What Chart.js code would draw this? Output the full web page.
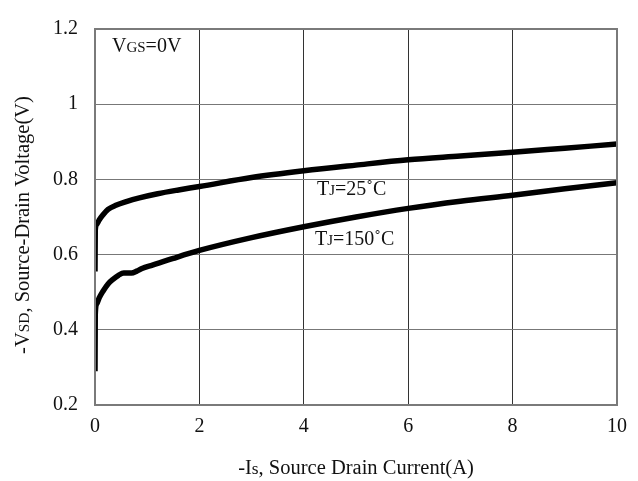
<!DOCTYPE html>
<html>
<head>
<meta charset="utf-8">
<script src="https://cdn.jsdelivr.net/npm/chart.js@4.4.1/dist/chart.umd.min.js"></script>
<style>
  html, body { margin: 0; padding: 0; background: #fff; }
  #wrap { width: 638px; height: 481px; }
</style>
</head>
<body>
<div id="wrap"><canvas id="vsdGraph" width="638" height="481"></canvas></div>
<script>
// Source-drain diode forward voltage vs current
var current25 = [0, 0.005, 0.03, 0.08, 0.15, 0.25, 0.4, 0.6, 0.85, 1.2, 1.6, 2, 3, 4, 5, 6, 7, 8, 9, 10];
var volt25 = [0.555, 0.665, 0.68, 0.692, 0.705, 0.72, 0.731, 0.741, 0.751, 0.762, 0.772, 0.781, 0.805, 0.823, 0.838, 0.852, 0.862, 0.872, 0.883, 0.894];

var current150 = [0, 0.005, 0.03, 0.08, 0.15, 0.25, 0.35, 0.45, 0.55, 0.7, 0.8, 0.9, 1.1, 1.5, 2, 3, 4, 5, 6, 7, 8, 9, 10];
var volt150 = [0.29, 0.44, 0.468, 0.485, 0.502, 0.522, 0.535, 0.545, 0.551, 0.551, 0.556, 0.563, 0.572, 0.59, 0.611, 0.645, 0.674, 0.7, 0.723, 0.742, 0.758, 0.775, 0.791];

var xTicks = [0, 2, 4, 6, 8, 10];
var yTicks = [0.2, 0.4, 0.6, 0.8, 1, 1.2];

var FONT = "'Liberation Serif', 'DejaVu Serif', serif";

function toPoints(xs, ys) {
    return xs.map(function (x, i) { return { x: x, y: ys[i] }; });
}

// draws text made of pieces with different sizes on a common baseline
function richText(ctx, parts, x, y, size, align) {
    var total = 0;
    parts.forEach(function (p) {
        ctx.font = (size * p[1]) + 'px ' + FONT;
        total += ctx.measureText(p[0]).width;
    });
    var cx = align === 'center' ? x - total / 2 : x;
    ctx.textBaseline = 'alphabetic';
    ctx.textAlign = 'left';
    parts.forEach(function (p) {
        ctx.font = (size * p[1]) + 'px ' + FONT;
        ctx.fillText(p[0], cx, y);
        cx += ctx.measureText(p[0]).width;
    });
}

var labelsPlugin = {
    id: 'labels',
    afterDraw: function (chart) {
        var ctx = chart.ctx;
        var a = chart.chartArea;
        ctx.save();

        // frame
        ctx.strokeStyle = '#7a7a7a';
        ctx.lineWidth = 2;
        ctx.strokeRect(a.left, a.top, a.right - a.left, a.bottom - a.top);

        ctx.fillStyle = '#111';
        richText(ctx, [['V', 1], ['GS', 0.75], ['=0V', 1]], 112, 52, 20, 'left');
        richText(ctx, [['T', 1], ['J', 0.75], ['=25', 1], ['\u02da', 1], ['C', 1]], 317, 195, 20, 'left');
        richText(ctx, [['T', 1], ['J', 0.75], ['=150', 1], ['\u02da', 1], ['C', 1]], 315, 245, 20, 'left');

        // x axis title
        richText(ctx, [['-I', 1], ['s', 0.85], [', Source Drain Current(A)', 1]],
            (a.left + a.right) / 2, 474, 20.5, 'center');

        // y axis title, rotated
        ctx.translate(29, (a.top + a.bottom) / 2 + 8);
        ctx.rotate(-Math.PI / 2);
        richText(ctx, [['-V', 1], ['SD', 0.75], [', Source-Drain Voltage(V)', 1]], 0, 0, 20.5, 'center');
        ctx.restore();
    }
};

var ctx = document.getElementById('vsdGraph').getContext('2d');

var vsdGraph = new Chart(ctx, {
    type: 'line',
    data: {
        datasets: [{
            label: 'TJ=25C',
            data: toPoints(current25, volt25),
            borderColor: '#000',
            borderWidth: 5.5,
            pointRadius: 0,
            cubicInterpolationMode: 'monotone',
            borderCapStyle: 'butt'
        }, {
            label: 'TJ=150C',
            data: toPoints(current150, volt150),
            borderColor: '#000',
            borderWidth: 5.5,
            pointRadius: 0,
            cubicInterpolationMode: 'monotone',
            borderCapStyle: 'butt'
        }]
    },
    options: {
        responsive: false,
        animation: false,
        layout: { padding: { left: 0, top: 20, right: 21, bottom: 0 } },
        plugins: {
            legend: { display: false },
            tooltip: { enabled: false }
        },
        scales: {
            x: {
                type: 'linear',
                min: 0,
                max: 10,
                afterBuildTicks: function (scale) {
                    scale.ticks = xTicks.map(function (v) { return { value: v }; });
                },
                afterFit: function (scale) { scale.height = 76; },
                ticks: {
                    padding: 10,
                    color: '#111',
                    font: { family: FONT, size: 20 },
                    maxRotation: 0
                },
                grid: { color: '#333', lineWidth: 1, drawTicks: false },
                border: { display: false }
            },
            y: {
                min: 0.2,
                max: 1.2,
                afterBuildTicks: function (scale) {
                    scale.ticks = yTicks.map(function (v) { return { value: v }; });
                },
                afterFit: function (scale) { scale.width = 95; },
                ticks: {
                    padding: 17,
                    color: '#111',
                    font: { family: FONT, size: 20 },
                    callback: function (v) { return String(+v.toFixed(1)); }
                },
                grid: { color: '#777', lineWidth: 1, drawTicks: false },
                border: { display: false }
            }
        }
    },
    plugins: [labelsPlugin]
});
</script>
</body>
</html>
